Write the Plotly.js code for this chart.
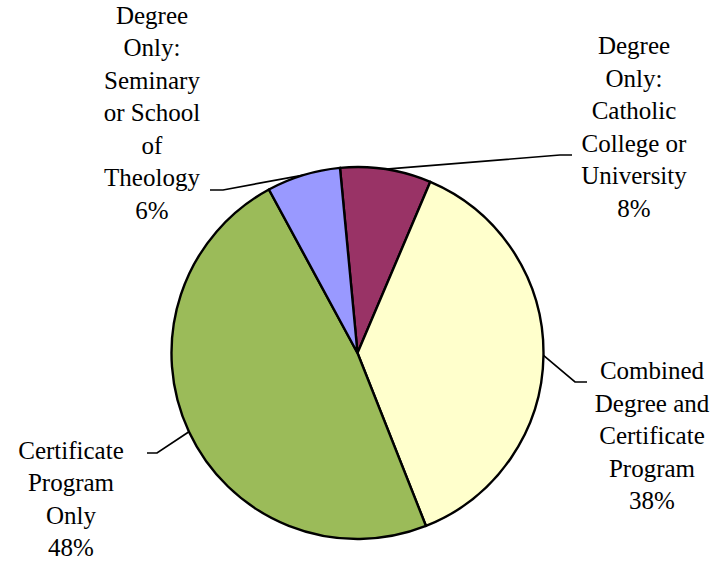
<!DOCTYPE html>
<html>
<head>
<meta charset="utf-8">
<script src="https://cdn.plot.ly/plotly-3.0.1.min.js"></script>
</head>
<body style="margin:0">
<div id="chart"></div>
<script>
// ---- data ----
var categories = [
  ["Degree", "Only:", "Catholic", "College or", "University"],
  ["Combined", "Degree and", "Certificate", "Program"],
  ["Certificate", "Program", "Only"],
  ["Degree", "Only:", "Seminary", "or School", "of", "Theology"]
];
var shares = [7.9, 37.6, 48.1, 6.4];
var colors = ["#993366", "#FFFFCC", "#9BBB59", "#9999FF"];

// ---- layout config (pixel frame) ----
var W = 723, H = 564;
var cx = 357.5, cy = 353, R = 186;     // pie centre / radius in px
var startAngle = -5.4;                 // degrees clockwise from 12 o'clock
var labelPos = [[634, 129], [652, 438], [71, 501], [152, 115]];
var leaderPts = [
  [[572, 155], [560, 155]],
  [[587, 382], [575, 382]],
  [[147, 453], [157, 453]],
  [[210, 190], [223, 190]]
];
var SERIF = "Liberation Serif";

var total = shares.reduce(function (a, b) { return a + b; }, 0);
var traces = [];
var txtX = [], txtY = [], txt = [];
var acc = 0;
for (var i = 0; i < shares.length; i++) {
  var mid = startAngle + (acc + shares[i] / 2) / total * 360;
  acc += shares[i];
  var rad = mid * Math.PI / 180;
  var ex = cx + R * Math.sin(rad), ey = cy - R * Math.cos(rad);
  var p = leaderPts[i];
  traces.push({
    type: "scatter", mode: "lines", hoverinfo: "skip", showlegend: false,
    x: [p[0][0], p[1][0], ex], y: [p[0][1], p[1][1], ey],
    line: {color: "#000", width: 1.7}
  });
  txtX.push(labelPos[i][0]);
  txtY.push(labelPos[i][1]);
  txt.push(categories[i].concat([Math.round(shares[i] / total * 100) + "%"]).join("<br>"));
}
traces.push({
  type: "scatter", mode: "text", hoverinfo: "skip", showlegend: false,
  x: txtX, y: txtY, text: txt, textposition: "middle center",
  textfont: {family: SERIF, size: 25, color: "#000000"}
});
traces.push({
  type: "pie",
  values: shares,
  labels: categories.map(function (c) { return c.join(" "); }),
  sort: false,
  direction: "clockwise",
  rotation: startAngle,
  textinfo: "none",
  hoverinfo: "none",
  marker: {colors: colors, line: {color: "#000", width: 2.4}},
  domain: {x: [(cx - R) / W, (cx + R) / W], y: [1 - (cy + R) / H, 1 - (cy - R) / H]},
  showlegend: false
});

Plotly.newPlot("chart", traces, {
  width: W, height: H,
  margin: {l: 0, r: 0, t: 0, b: 0},
  font: {family: SERIF, color: "#000000"},
  showlegend: false,
  xaxis: {range: [0, W], visible: false, fixedrange: true},
  yaxis: {range: [H, 0], visible: false, fixedrange: true}
}, {staticPlot: true});
</script>
</body>
</html>
